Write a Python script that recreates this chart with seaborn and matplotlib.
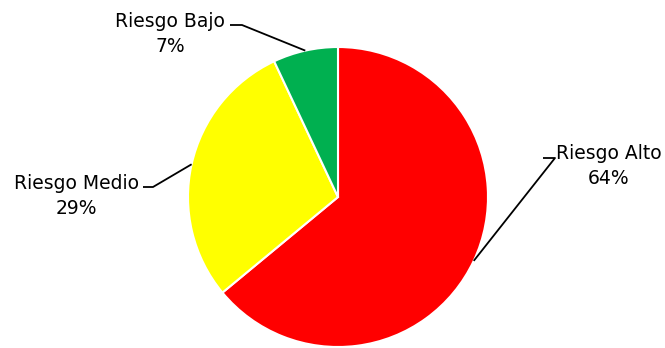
import numpy as np
import matplotlib
matplotlib.use("Agg")
import matplotlib.pyplot as plt
import seaborn as sns

categories = ["Riesgo Alto", "Riesgo Medio", "Riesgo Bajo"]
shares = [64, 29, 7]
colors = ["#FF0000", "#FFFF00", "#00B050"]

sns.set_theme(style="white")
plt.rcParams["font.family"] = ["DejaVu Sans"]

W, H = 665, 348
fig = plt.figure(figsize=(W / 100, H / 100), dpi=100)
ax = fig.add_axes([0, 0, 1, 1])
ax.set_xlim(0, W)
ax.set_ylim(0, H)
ax.set_aspect("equal")
ax.axis("off")

cx, cy, r = 338, H - 197, 150
wedges, _ = ax.pie(shares, colors=sns.color_palette(colors), startangle=90,
                   counterclock=False, center=(cx, cy), radius=r,
                   wedgeprops=dict(edgecolor="white", linewidth=1.5))
ax.set_xlim(0, W)
ax.set_ylim(0, H)

# label anchor (end of horizontal leader stub), text centre
label_spec = {
    "Riesgo Alto": dict(stub=(543, 158), dx=12, text=(609, 166)),
    "Riesgo Medio": dict(stub=(153, 187), dx=-10, text=(76, 196)),
    "Riesgo Bajo": dict(stub=(230, 25), dx=12, text=(170, 34)),
}

for w, name, val in zip(wedges, categories, shares):
    mid = np.deg2rad((w.theta1 + w.theta2) / 2)
    px, py = cx + r * np.cos(mid), cy + r * np.sin(mid)
    spec = label_spec[name]
    sx, sy = spec["stub"]
    sy = H - sy
    if spec["dx"] > 0:
        xs = [px, sx + spec["dx"], sx]
    else:
        xs = [px, sx, sx + spec["dx"]]
    ax.plot(xs, [py, sy, sy], color="black", lw=1.3, solid_capstyle="butt")
    tx, ty = spec["text"]
    ax.text(tx, H - ty, f"{name}\n{val}%", ha="center", va="center",
            fontsize=13.5, color="black", linespacing=1.4)

fig.savefig("out.png", dpi=100)
